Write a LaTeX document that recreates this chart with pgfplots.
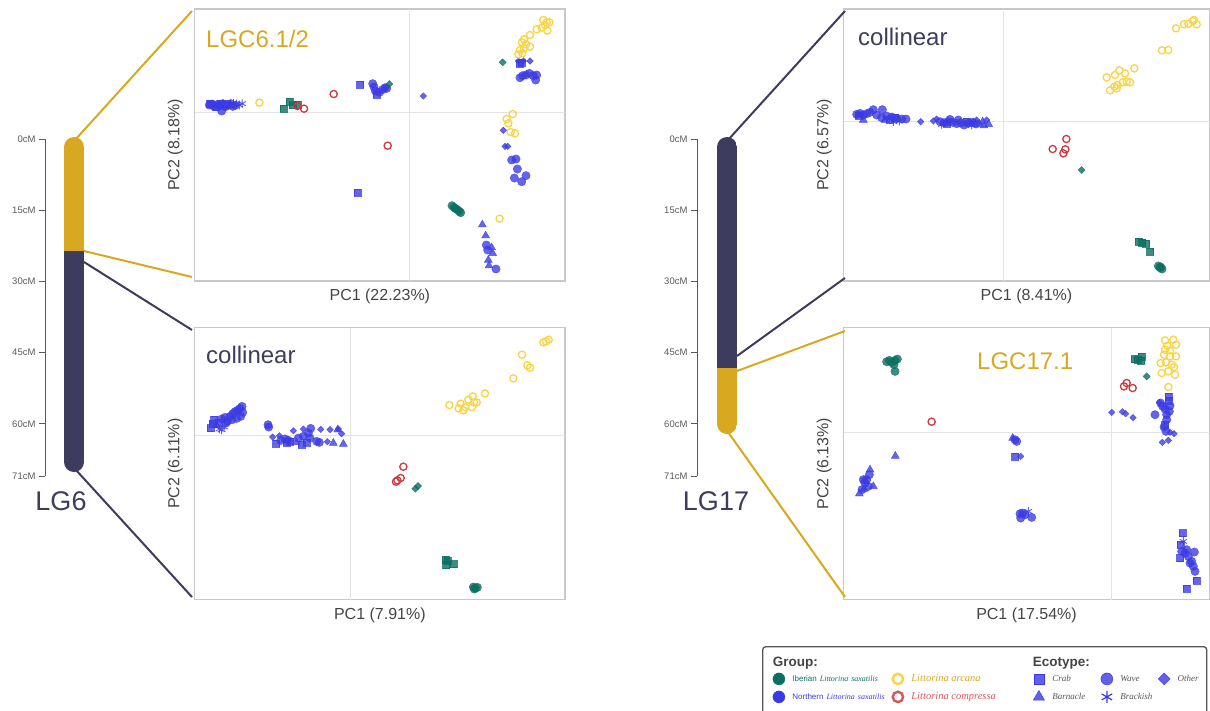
\documentclass[border=0pt]{standalone}
\usepackage{fontspec}
\setmainfont{Liberation Sans}
\newfontfamily\tms{Liberation Serif}
\usepackage{pgfplots}
\pgfplotsset{compat=1.18}

\definecolor{nblue}{RGB}{58,58,226}
\definecolor{teal}{RGB}{12,110,98}
\definecolor{yel}{RGB}{250,212,70}
\definecolor{rd}{RGB}{204,59,63}
\definecolor{gold}{RGB}{216,168,32}
\definecolor{navy}{RGB}{61,60,94}
\definecolor{boxgray}{RGB}{200,200,200}
\definecolor{gridgray}{RGB}{228,228,228}
\definecolor{labgray}{RGB}{68,68,68}
\definecolor{tickgray}{RGB}{90,90,90}
\definecolor{legtxt}{RGB}{85,85,85}

\newcommand\fs[1]{\fontsize{#1}{#1}\selectfont}

\pgfplotsset{
  pca/.style={scale only axis, height=272pt, y dir=reverse, ticks=none,
    axis line style={draw=boxgray, line width=1.3pt},
    xlabel style={font=\fs{16}, text=labgray, at={(axis description cs:0.5,-0.03)}, anchor=north, inner sep=0pt},
    ylabel style={font=\fs{16}, text=labgray, at={(axis description cs:-0.032,0.5)}, anchor=south, inner sep=0pt}},
  nb/.style={only marks, mark options={draw=nblue, fill=nblue, fill opacity=0.78, draw opacity=0.78}},
  tl/.style={only marks, mark options={draw=teal, fill=teal, fill opacity=0.8, draw opacity=0.8}},
  nbC/.style={nb, mark=*, mark size=4.2pt},
  nbS/.style={nb, mark=square*, mark size=3.5pt},
  nbD/.style={only marks, mark=square*, mark size=2.3pt,
    mark options={draw=nblue, fill=nblue, fill opacity=0.78, draw opacity=0.78, rotate=45}},
  nbT/.style={nb, mark=triangle*, mark size=4.6pt},
  nbA/.style={nb, mark=asterisk, mark size=4.3pt, line width=1pt},
  tlC/.style={tl, mark=*, mark size=4.2pt},
  tlS/.style={tl, mark=square*, mark size=3.5pt},
  tlD/.style={only marks, mark=square*, mark size=2.5pt,
    mark options={draw=teal, fill=teal, fill opacity=0.8, draw opacity=0.8, rotate=45}},
  ylO/.style={only marks, mark=o, mark size=3.6pt, mark options={draw=yel, line width=1.3pt}},
  rdO/.style={only marks, mark=o, mark size=3.6pt, mark options={draw=rd, line width=1.3pt}},
  chrom/.style={scale only axis, width=40pt, height=337pt, xmin=0, xmax=40, ymin=0, ymax=71,
    y dir=reverse, axis x line=none, axis y line*=left,
    ytick={0,15,30,45,60,71}, yticklabels={0cM,15cM,30cM,45cM,60cM,71cM},
    tick align=outside, major tick length=6pt,
    tick style={draw=tickgray, line width=0.9pt},
    axis line style={draw=tickgray, line width=0.9pt},
    yticklabel style={font=\fs{9.5}, text=tickgray}},
  leg/.style={scale only axis, width=1pt, height=1pt, hide axis, xmin=0, xmax=1, ymin=0, ymax=1,
    anchor=north west, legend cell align=left,
    legend image code/.code={\path[draw=none, fill=none] (0pt,-9pt) rectangle (22pt,9pt); \draw[##1] plot coordinates {(8.5pt,0pt)};},
    legend style={at={(0,1)}, anchor=north west, draw=none, fill=none, inner sep=0pt,
      row sep=0pt, column sep=0pt, font=\fs{9}, nodes={inner sep=0pt, draw=none}}},
}

\begin{document}
\begin{tikzpicture}
\path[use as bounding box] (0pt,0pt) rectangle (1210pt,-710pt);

% ---- chromosome scales
\begin{axis}[chrom, at={(45pt,-476pt)}, anchor=south west]
\end{axis}
\begin{axis}[chrom, at={(697pt,-476pt)}, anchor=south west]
\end{axis}

% ---- LGC6.1/2
\begin{axis}[pca, at={(194.7pt,-281pt)}, anchor=south west, width=370.3pt,
  xmin=14, xmax=1125, ymin=12, ymax=828,
  xlabel={PC1 (22.23\%)}, ylabel={PC2 (8.18\%)}]
\draw[gridgray, line width=1pt] (axis cs:658,12) -- (axis cs:658,828);
\draw[gridgray, line width=1pt] (axis cs:14,323) -- (axis cs:1125,323);
\addplot[nbC] coordinates {(58,300)(66,297)(72,304)(80,299)(88,302)(95,318)(98,296)(106,305)(115,300)(122,296)(128,304)(136,301)
  (548,236)(552,246)(556,258)(568,262)(578,254)(590,250)(585,248)
  (990,218)(998,212)(1008,210)(1018,205)(1030,212)(1040,210)(1037,225)
  (965,465)(978,462)(982,492)(973,519)(995,530)(1008,512)
  (889,720)(893,735)(918,792)};
\addplot[nbS] coordinates {(60,296)(78,306)(92,295)(110,297)(560,268)(510,239)(503,562)(988,175)(995,172)};
\addplot[nbA] coordinates {(140,297)(148,300)(156,296)(130,295)};
\addplot[nbT] coordinates {(100,306)(118,302)(877,659)(887,692)(905,728)(908,745)(895,765)(897,782)};
\addplot[nbD] coordinates {(85,296)(700,273)(985,168)(1000,168)(1020,168)(940,376)(945,424)(953,424)};
\addplot[tlC] coordinates {(786,602)(792,607)(797,611)(803,615)(808,619)(812,623)};
\addplot[tlS] coordinates {(280,311)(298,289)(308,300)(322,299)};
\addplot[tlD] coordinates {(598,237)(938,172)};
\addplot[rdO] coordinates {(322,303)(342,311)(431,267)(593,422)};
\addplot[ylO] coordinates {(208,293)(929,641)
  (1060,45)(1070,52)(1078,52)(1065,60)(1072,77)(1055,68)(1040,73)(1020,90)(1002,103)(996,112)(1008,118)(1020,125)(1002,130)(990,135)(985,148)(997,145)
  (968,327)(950,342)(955,355)(962,381)(975,385)};
\end{axis}

% ---- LG6 collinear
\begin{axis}[pca, at={(194.7pt,-599.7pt)}, anchor=south west, width=370.3pt,
  xmin=14, xmax=1125, ymin=14, ymax=830,
  xlabel={PC1 (7.91\%)}, ylabel={PC2 (6.11\%)}]
\draw[gridgray, line width=1pt] (axis cs:482,14) -- (axis cs:482,830);
\draw[gridgray, line width=1pt] (axis cs:14,338) -- (axis cs:1125,338);
\addplot[nbS] coordinates {(62,315)(72,290)(85,298)(68,302)(258,362)(290,358)(335,365)(350,358)(300,355)};
\addplot[nbC] coordinates {(95,288)(105,283)(112,295)(120,280)(128,272)(135,266)(142,262)(150,256)(156,250)(152,280)(140,286)(126,290)(108,300)(158,268)
  (234,305)(236,312)
  (272,352)(285,348)(295,352)(325,345)(340,340)(355,330)(362,316)(380,355)(388,358)(360,345)};
\addplot[nbA] coordinates {(95,320)(102,312)(88,318)};
\addplot[nbT] coordinates {(80,308)(430,360)(460,363)(443,320)(318,358)};
\addplot[nbD] coordinates {(248,342)(268,338)(310,323)(340,318)(392,319)(420,320)(445,318)(455,332)(412,356)};
\addplot[tlD] coordinates {(676,497)(684,489)};
\addplot[tlS] coordinates {(766,710)(772,714)(790,723)(768,726)};
\addplot[tlC] coordinates {(850,792)(856,795)(862,793)(853,798)};
\addplot[rdO] coordinates {(640,431)(632,465)(622,472)(618,476)};
\addplot[ylO] coordinates {(778,246)(806,256)(812,242)(820,262)(825,252)(835,230)(848,220)(852,238)(860,238)(846,252)(885,211)
  (970,166)(996,95)(1012,127)(1020,134)(1060,58)(1068,55)(1076,50)};
\end{axis}

% ---- LG17 collinear
\begin{axis}[pca, at={(843.5pt,-281pt)}, anchor=south west, width=366pt,
  xmin=10.5, xmax=1108.5, ymin=12, ymax=828,
  xlabel={PC1 (8.41\%)}, ylabel={PC2 (6.57\%)}]
\draw[gridgray, line width=1pt] (axis cs:490,12) -- (axis cs:490,828);
\draw[gridgray, line width=1pt] (axis cs:10.5,348) -- (axis cs:1108.5,348);
\addplot[nbC] coordinates {(50,328)(60,325)(70,330)(80,326)(90,322)(100,314)(127,314)(110,330)(125,338)(140,333)(155,336)(170,340)(185,342)(198,342)
  (300,350)(312,353)(325,350)(338,352)(350,356)(362,354)(372,360)(385,355)(398,352)(408,357)(330,343)(355,345)};
\addplot[nbS] coordinates {(55,332)(148,344)(165,338)(320,355)(380,350)};
\addplot[nbT] coordinates {(70,345)(135,345)(418,357)(432,362)(446,358)(428,350)};
\addplot[nbA] coordinates {(160,350)(178,348)(305,358)(395,360)};
\addplot[nbD] coordinates {(242,350)(280,348)(290,342)(400,350)(410,345)(440,345)};
\addplot[tlD] coordinates {(725,495)};
\addplot[tlS] coordinates {(896,709)(906,712)(918,715)(930,740)};
\addplot[tlC] coordinates {(955,783)(960,788)(966,792)(962,786)};
\addplot[rdO] coordinates {(679,402)(638,432)(676,433)(670,445)};
\addplot[ylO] coordinates {(800,217)(810,256)(825,210)(823,245)(832,240)(838,196)(848,232)(855,205)(860,230)(870,232)(883,190)(830,250)
  (966,136)(985,135)(1008,70)(1032,58)(1045,56)(1058,48)(1070,58)(1062,45)};
\end{axis}

% ---- LGC17.1
\begin{axis}[pca, at={(843.5pt,-599.7pt)}, anchor=south west, width=366pt,
  xmin=10.5, xmax=1108.5, ymin=14, ymax=830,
  xlabel={PC1 (17.54\%)}, ylabel={PC2 (6.13\%)}]
\draw[gridgray, line width=1pt] (axis cs:815,14) -- (axis cs:815,830);
\draw[gridgray, line width=1pt] (axis cs:10.5,328) -- (axis cs:1108.5,328);
\addplot[nbT] coordinates {(166,399)(90,440)(100,490)(58,512)(72,498)(518,345)};
\addplot[nbC] coordinates {(88,455)(75,480)(66,500)(85,490)(70,470)(80,470)(530,355)(525,350)
  (540,572)(542,585)(575,583)(555,575)(548,570)
  (945,275)(962,240)(975,258)(988,265)(980,290)(972,312)(978,325)(968,250)(990,248)(980,275)
  (1025,685)(1040,680)(1063,687)(1045,700)(1055,715)(1060,730)(1065,745)(1050,720)(1035,690)};
\addplot[nbA] coordinates {(72,470)(565,565)(1030,655)};
\addplot[nbS] coordinates {(525,400)(985,220)(975,305)(985,232)(1028,630)(1020,705)(1070,773)(1040,797)(1022,665)};
\addplot[nbD] coordinates {(542,400)(815,268)(847,266)(857,272)(879,284)(958,238)(1002,332)(985,352)(967,358)(990,328)};
\addplot[tlC] coordinates {(140,116)(148,112)(155,118)(165,112)(172,108)(162,125)(165,145)};
\addplot[tlS] coordinates {(883,108)(905,100)(893,110)(903,112)};
\addplot[tlD] coordinates {(920,160)};
\addplot[rdO] coordinates {(275,296)(852,190)(860,180)(878,195)};
\addplot[ylO] coordinates {(975,52)(1000,50)(1008,65)(982,68)(972,95)(990,100)(1008,100)(962,120)(978,118)(995,125)(1002,132)
  (965,150)(985,145)(1005,155)(975,80)(990,82)(985,192)};
\end{axis}

% ---- legend
\begin{axis}[leg, at={(770.2pt,-669.7pt)},
  legend columns=2,
  legend style={/tikz/column 2/.style={nodes={text width=97pt}}}]
\addlegendimage{mark=*, mark size=6pt, mark options={draw=teal, fill=teal}}
\addlegendentry{\mbox{\textcolor{teal}{\fs{8}Iberian {\tms\itshape Littorina saxatilis}}}}
\addlegendimage{mark=o, mark size=5.2pt, mark options={draw=yel, line width=2.4pt}}
\addlegendentry{\mbox{\textcolor{gold}{\fs{10.5}\tms\itshape Littorina arcana}}}
\addlegendimage{mark=*, mark size=6pt, mark options={draw=nblue, fill=nblue}}
\addlegendentry{\mbox{\textcolor{nblue}{\fs{8}Northern {\tms\itshape Littorina saxatilis}}}}
\addlegendimage{mark=o, mark size=5.2pt, mark options={draw=rd!85!white, line width=2.4pt}}
\addlegendentry{\mbox{\textcolor{rd!85!white}{\fs{10.5}\tms\itshape Littorina compressa}}}
\end{axis}
\begin{axis}[leg, at={(1030.2pt,-669.7pt)},
  legend columns=3,
  legend style={font=\fs{9}\tms\itshape, text=legtxt,
    /tikz/column 2/.style={nodes={text width=46pt}},
    /tikz/column 4/.style={nodes={text width=35.3pt}}}]
\addlegendimage{mark=square*, mark size=5pt, mark options={draw=nblue, fill=nblue, fill opacity=0.8}}
\addlegendentry{Crab}
\addlegendimage{mark=*, mark size=6pt, mark options={draw=nblue, fill=nblue, fill opacity=0.8}}
\addlegendentry{Wave}
\addlegendimage{mark=square*, mark size=4.2pt, mark options={draw=nblue, fill=nblue, fill opacity=0.8, rotate=45}}
\addlegendentry{Other}
\addlegendimage{mark=triangle*, mark size=6.5pt, mark options={draw=nblue, fill=nblue, fill opacity=0.8}}
\addlegendentry{Barnacle}
\addlegendimage{mark=asterisk, mark size=6pt, mark options={draw=nblue, line width=1.2pt}}
\addlegendentry{Brackish}
\end{axis}

\begin{scope}[x=1pt, y=-1pt]
  % connector lines
  \draw[gold, line width=2pt] (75,140) -- (192,11);
  \draw[gold, line width=2pt] (84,251) -- (192,277);
  \draw[navy, line width=2pt] (84,262) -- (192,330);
  \draw[navy, line width=2pt] (76,470) -- (192,597);
  \draw[navy, line width=2pt] (728,140) -- (845,11);
  \draw[navy, line width=2pt] (737,356) -- (845,278);
  \draw[gold, line width=2pt] (737,371) -- (845,331);
  \draw[gold, line width=2pt] (728,432) -- (845,597);
  % chromosomes
  \begin{scope}
    \clip[rounded corners=10pt] (64,137) rectangle (84,472);
    \fill[gold] (64,137) rectangle (84,251);
    \fill[navy] (64,251) rectangle (84,472);
  \end{scope}
  \begin{scope}
    \clip[rounded corners=10pt] (717,137) rectangle (737,434);
    \fill[navy] (717,137) rectangle (737,368);
    \fill[gold] (717,368) rectangle (737,434);
  \end{scope}
  \node[anchor=base, text=navy, font=\fs{27}, inner sep=0pt] at (61,510) {LG6};
  \node[anchor=base, text=navy, font=\fs{27}, inner sep=0pt] at (716,510) {LG17};
  % panel titles
  \node[anchor=base west, text=gold, font=\fs{24}, inner sep=0pt] at (206,47) {LGC6.1/2};
  \node[anchor=base west, text=navy, font=\fs{24}, inner sep=0pt] at (206,363) {collinear};
  \node[anchor=base west, text=navy, font=\fs{24}, inner sep=0pt] at (858,45) {collinear};
  \node[anchor=base west, text=gold, font=\fs{24}, inner sep=0pt] at (977,369) {LGC17.1};
  % legend frame and headings
  \draw[legtxt, line width=1.3pt, rounded corners=3pt] (762.7,646.7) rectangle (1206.7,716);
  \node[anchor=base west, text=labgray, font=\fs{13.5}\bfseries, inner sep=0pt] at (772.7,666) {Group:};
  \node[anchor=base west, text=labgray, font=\fs{13.5}\bfseries, inner sep=0pt] at (1032.7,666) {Ecotype:};
\end{scope}
\end{tikzpicture}
\end{document}
